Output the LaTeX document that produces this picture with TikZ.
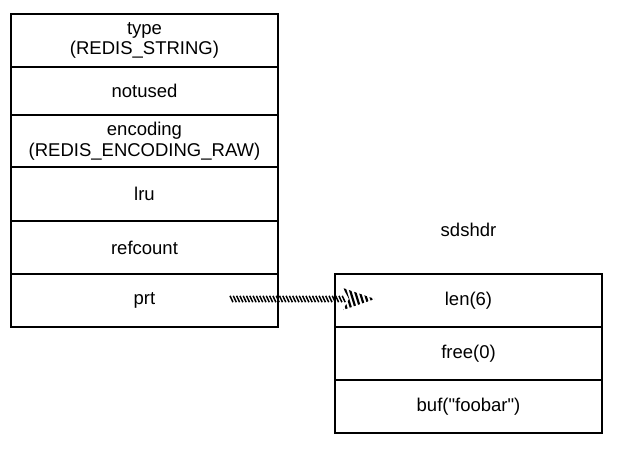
\documentclass[tikz,border=0pt]{standalone}
\usepackage{fontspec}
\setmainfont{Liberation Sans}[Ligatures=TeXOff]
\usetikzlibrary{calc}
\begin{document}
\begin{tikzpicture}[x=1pt,y=-1pt,
  cell/.style={draw=black, line width=1.4pt, minimum width=267pt, inner sep=0pt,
    align=center, font=\fontsize{18.5}{20.5}\selectfont},
  lbl/.style={inner sep=0pt, font=\fontsize{18.5}{20.5}\selectfont},
  hatch/.style={line width=1.5pt, black},
  hatchhead/.style={line width=2.2pt, black}]
\useasboundingbox (0,0) rectangle (617,451);
% hatched pointer (drawn first so box borders lie on top)
\coordinate (a0) at (230,299);
\coordinate (a1) at (375,299);
\foreach \i in {0,...,34}
  \draw[hatch] ($(a0)+(\i*3.3,-3.2)$) -- ++(3,6.4);
\begin{scope}
  \clip ($(a1)+(-32,-11)$) -- (a1) -- ($(a1)+(-32,11)$) -- ($(a1)+(-26,0)$) -- cycle;
  \foreach \j in {0,...,8}
    \draw[hatchhead] ($(a1)+(-40+\j*4.6,-13)$) -- ++(8,26);
\end{scope}
% redisObject
\node[cell, minimum height=53pt] (type) at (144.5,40.5) {type\\(REDIS\_STRING)};
\node[cell, minimum height=48pt] (notused) at (144.5,91) {notused};
\node[cell, minimum height=52pt] (encoding) at (144.5,141) {encoding\\(REDIS\_ENCODING\_RAW)};
\node[cell, minimum height=54pt] (lru) at (144.5,194) {lru};
\node[cell, minimum height=53pt] (refcount) at (144.5,247.5) {refcount};
\node[cell, minimum height=53pt] (prt) at (144.5,300.5) {prt};
% sdshdr
\node[lbl] (sdshdr) at (468.5,230) {sdshdr};
\node[cell, minimum height=53pt] (len) at (468.5,300.5) {len(6)};
\node[cell, minimum height=53pt] (free) at (468.5,353.5) {free(0)};
\node[cell, minimum height=53pt] (buf) at (468.5,406.5) {buf("foobar")};
\end{tikzpicture}
\end{document}
